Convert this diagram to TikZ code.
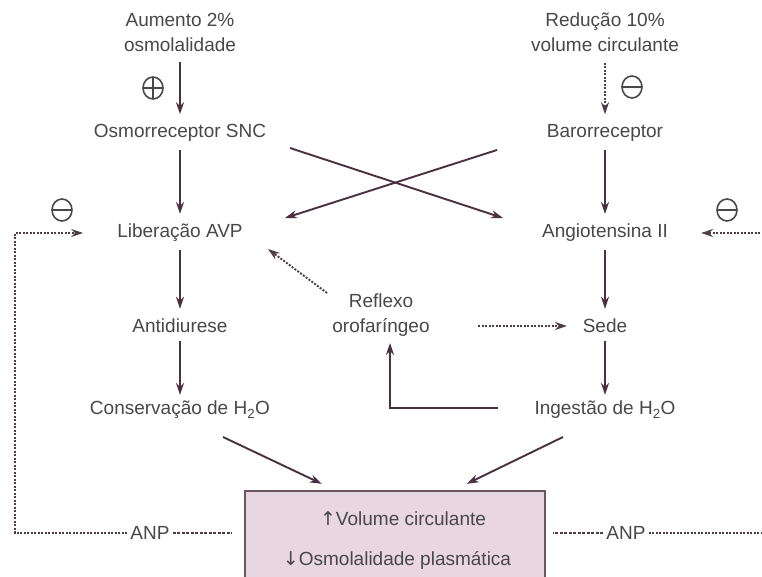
\documentclass[tikz,border=0pt]{standalone}
\usepackage{fontspec}
\setmainfont{Liberation Sans}
\newfontfamily\arrowfont{DejaVu Sans}
\usetikzlibrary{arrows.meta,calc,shapes.geometric}
\definecolor{txt}{HTML}{484848}
\definecolor{arrc}{HTML}{4A3040}
\definecolor{dotc}{HTML}{4F3C46}
\definecolor{boxfill}{HTML}{E8D6E0}
\definecolor{boxedge}{HTML}{6A5560}
\begin{document}
\begin{tikzpicture}[x=1pt,y=-1pt,
  lbl/.style={text=txt,font=\fontsize{19}{25}\selectfont,align=center,inner sep=3pt},
  arr/.style={draw=arrc,line width=1.9pt,-{Stealth[length=12pt,width=8pt]}},
  dotarr/.style={draw=dotc,line width=1.9pt,dash pattern=on 2pt off 1.5pt,-{Stealth[length=12pt,width=8pt]}},
  dsh/.style={draw=dotc,line width=1.9pt,dash pattern=on 3pt off 1.5pt},
  sign/.style={ellipse,draw=txt,line width=1.6pt,minimum width=20pt,minimum height=22pt,inner sep=0pt},
  minus/.style={sign,path picture={\draw[txt,line width=1.6pt] (path picture bounding box.west) -- (path picture bounding box.east);}},
  plus/.style={sign,path picture={\draw[txt,line width=1.6pt] (path picture bounding box.west) -- (path picture bounding box.east) (path picture bounding box.north) -- (path picture bounding box.south);}}
]
\clip (0,0) rectangle (762,577);
\fill[white] (0,0) rectangle (762,577);
% nodes
\node[lbl] (ao) at (180,32) {Aumento 2\%\\osmolalidade};
\node[lbl] (osm) at (180,133) {Osmorreceptor SNC};
\node[lbl] (lib) at (180,233) {Liberação AVP};
\node[lbl] (anti) at (180,326) {Antidiurese};
\node[lbl] (cons) at (180,410) {Conservação de H\textsubscript{2}O};
\node[lbl] (red) at (605,32) {Redução 10\%\\volume circulante};
\node[lbl] (baro) at (605,133) {Barorreceptor};
\node[lbl] (ang) at (605,233) {Angiotensina II};
\node[lbl] (sede) at (605,326) {Sede};
\node[lbl] (ing) at (605,410) {Ingestão de H\textsubscript{2}O};
\node[lbl] (refl) at (381,315) {Reflexo\\orofaríngeo};
\draw[boxedge,fill=boxfill,line width=2.8pt] (245,491) rectangle (545,600);
\node[inner sep=0pt,minimum width=300pt,minimum height=109pt] (box) at (395,545.5) {};
\node[lbl] (bt1) at (403,519) {{\arrowfont ↑}Volume circulante};
\node[lbl] (bt2) at (397,560) {{\arrowfont ↓}Osmolalidade plasmática};
\node[lbl] (anpL) at (150,533) {ANP};
\node[lbl] (anpR) at (626,533) {ANP};
\node[plus] (p1) at (153,88) {};
\node[minus] (m1) at (632,87) {};
\node[minus] (m2) at (62,210) {};
\node[minus] (m3) at (727,210) {};
\coordinate (lc) at (15,533);
\coordinate (rc) at (775,533);
% vertical arrows
\draw[arr] ($(ao.south)+(0,8)$) -- ($(osm.north)+(0,-7)$);
\draw[arr] ($(osm.south)+(0,5)$) -- ($(lib.north)+(0,-7)$);
\draw[arr] ($(lib.south)+(0,5)$) -- ($(anti.north)+(0,-7)$);
\draw[arr] ($(anti.south)+(0,5)$) -- ($(cons.north)+(0,-3)$);
\draw[dotarr] ($(red.south)+(0,8)$) -- ($(baro.north)+(0,-7)$);
\draw[arr] ($(baro.south)+(0,5)$) -- ($(ang.north)+(0,-7)$);
\draw[arr] ($(ang.south)+(0,5)$) -- ($(sede.north)+(0,-7)$);
\draw[arr] ($(sede.south)+(0,5)$) -- ($(ing.north)+(0,-3)$);
% crossing arrows
\draw[arr] ($(osm.center)+(110,15)$) -- ($(ang.center)+(-102,-15)$);
\draw[arr] ($(baro.center)+(-108,17)$) -- ($(lib.center)+(105,-15)$);
% reflexo
\draw[dotarr] ($(refl.center)+(-54,-22)$) -- ($(lib.center)+(88,16)$);
\draw[dotarr] ($(refl.center)+(97,11)$) -- ($(sede.center)+(-38,0)$);
\draw[arr] ($(ing.center)+(-107,-2)$) -| ($(refl.center)+(9,28)$);
% to box
\draw[arr] ($(cons.center)+(43,27)$) -- ($(box.north west)+(77,-7)$);
\draw[arr] ($(ing.center)+(-42,27)$) -- ($(box.north west)+(222,-7)$);
% ANP feedback
\draw[dsh] (anpL.east) -- ($(box.west)+(-13,-12.5)$);
\draw[dotarr] (anpL.west) -- (lc) |- ($(lib.west)+(-31,0)$);
\draw[dsh] (anpR.west) -- ($(box.east)+(8,-12.5)$);
\draw[dotarr] (anpR.east) -- (rc) |- ($(ang.east)+(30,0)$);
\end{tikzpicture}
\end{document}
